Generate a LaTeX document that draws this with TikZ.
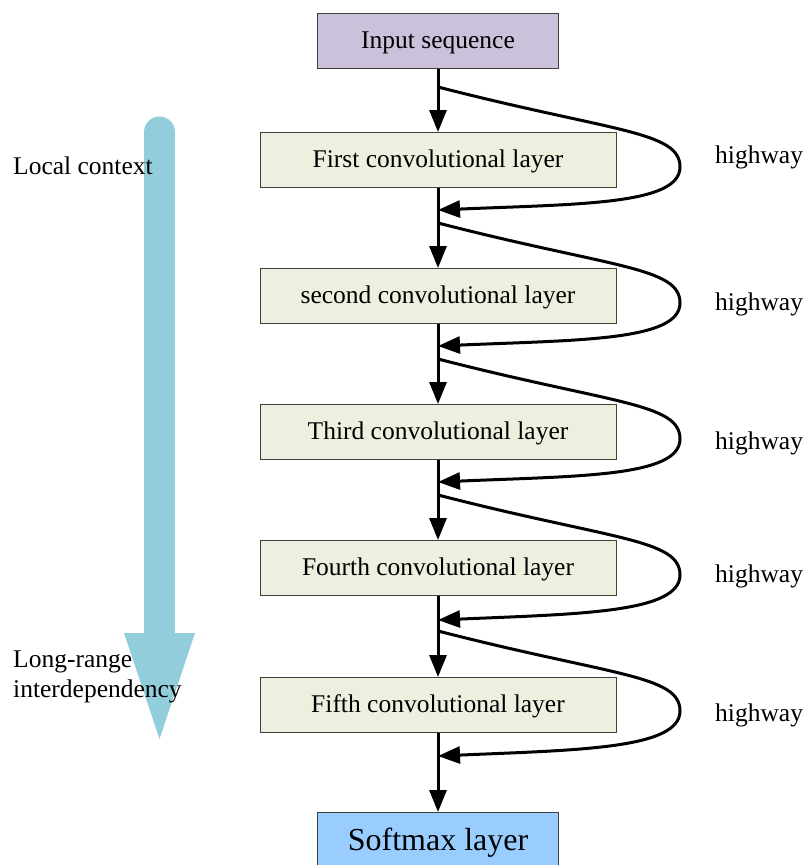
\documentclass[tikz,border=0pt]{standalone}
\usepackage{fontspec}
\setmainfont{Liberation Serif}
\usetikzlibrary{arrows.meta}
\definecolor{inputfill}{HTML}{CCC1DA}
\definecolor{convfill}{HTML}{EBF1DE}
\definecolor{softfill}{HTML}{99CCFF}
\definecolor{flowblue}{HTML}{92CDDC}
\definecolor{boxline}{HTML}{404040}

\tikzset{
  basebox/.style={draw=boxline, line width=1pt, inner sep=0pt, minimum height=55pt,
    text height=15pt, text depth=0pt, font=\fontsize{25.5}{30}\selectfont},
  inbox/.style={basebox, fill=inputfill, minimum width=241pt},
  convbox/.style={basebox, fill=convfill, minimum width=356pt},
  softbox/.style={basebox, fill=softfill, minimum width=241pt, text height=21pt,
    font=\fontsize{32}{38}\selectfont},
  note/.style={inner sep=0pt, anchor=west, font=\fontsize{25.5}{30}\selectfont},
  link/.style={line width=3pt, -{Triangle[length=22pt,width=17pt]}},
}

\begin{document}
\begin{tikzpicture}[x=1pt,y=-1pt]
    \useasboundingbox (0,0) rectangle (806,865);
    % broad arrow on the left
    \draw [flowblue, line width=31pt, line cap=round] (159.5,132) -- (159.5,634);
    \fill [flowblue] (124,633) -- (195,633) -- (159.5,739) -- cycle;

    \node [inbox] (input) at (438,41) {Input sequence};
    \node [convbox] (conv1) at (438,160) {First convolutional layer};
    \node [convbox] (conv2) at (438,296) {second convolutional layer};
    \node [convbox] (conv3) at (438,432) {Third convolutional layer};
    \node [convbox] (conv4) at (438,568) {Fourth convolutional layer};
    \node [convbox] (conv5) at (438,705) {Fifth convolutional layer};
    \node [softbox] (softmax) at (438,840) {Softmax layer};

    \draw [link] (input.south) -- (conv1.north);
    \draw [link] (conv1.south) -- (conv2.north);
    \draw [link] (conv2.south) -- (conv3.north);
    \draw [link] (conv3.south) -- (conv4.north);
    \draw [link] (conv4.south) -- (conv5.north);
    \draw [link] (conv5.south) -- (softmax.north);

    % highways
    \coordinate (hs1) at (438,87);  \coordinate (he1) at (438,210);
    \coordinate (hs2) at (438,223); \coordinate (he2) at (438,346);
    \coordinate (hs3) at (438,359); \coordinate (he3) at (438,482);
    \coordinate (hs4) at (438,495); \coordinate (he4) at (438,620);
    \coordinate (hs5) at (438,631); \coordinate (he5) at (438,756);
    \draw [link] (hs1) .. controls +(175,45) and +(0,-36) .. (680,167) .. controls +(0,38) and +(140,-6) .. (he1);
    \draw [link] (hs2) .. controls +(175,45) and +(0,-36) .. (680,303) .. controls +(0,38) and +(140,-6) .. (he2);
    \draw [link] (hs3) .. controls +(175,45) and +(0,-36) .. (680,439) .. controls +(0,38) and +(140,-6) .. (he3);
    \draw [link] (hs4) .. controls +(175,45) and +(0,-36) .. (680,575) .. controls +(0,38) and +(140,-6) .. (he4);
    \draw [link] (hs5) .. controls +(175,45) and +(0,-36) .. (680,711) .. controls +(0,38) and +(140,-6) .. (he5);

    \node [note] (hw1) at (715,157) {highway};
    \node [note] (hw2) at (715,304) {highway};
    \node [note] (hw3) at (715,443) {highway};
    \node [note] (hw4) at (715,576) {highway};
    \node [note] (hw5) at (715,715) {highway};

    \node [note] (local) at (13,166) {Local context};
    \node [note, align=left] (longrange) at (13,677) {Long-range\\interdependency};
\end{tikzpicture}
\end{document}
